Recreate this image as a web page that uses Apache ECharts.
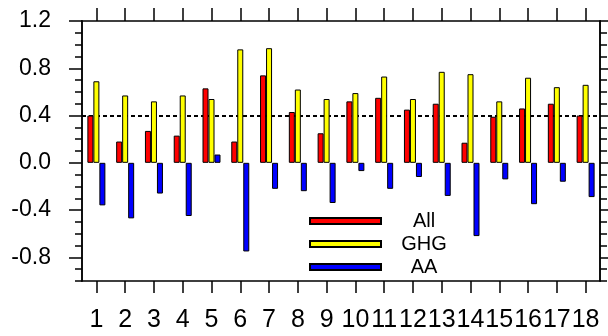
<!DOCTYPE html>
<html lang="en">
<head>
    <meta charset="UTF-8">
    <title>All / GHG / AA</title>
    <script src="https://cdn.jsdelivr.net/npm/echarts@6/dist/echarts.min.js"></script>
    <style>
        body {margin: 0; background: #fff;}
        #main {width: 608px; height: 336px;}
    </style>
</head>
<body>
    <div id="main"></div>
    <script>
    var categories = ['1','2','3','4','5','6','7','8','9','10','11','12','13','14','15','16','17','18'];
    var allVals = [0.40, 0.18, 0.27, 0.23, 0.63, 0.18, 0.74, 0.43, 0.25, 0.52, 0.55, 0.45, 0.50, 0.17, 0.39, 0.46, 0.50, 0.40];
    var ghgVals = [0.69, 0.57, 0.52, 0.57, 0.54, 0.96, 0.97, 0.62, 0.54, 0.59, 0.73, 0.54, 0.77, 0.75, 0.52, 0.72, 0.64, 0.66];
    var aaVals = [-0.36, -0.47, -0.26, -0.45, 0.07, -0.75, -0.22, -0.24, -0.34, -0.07, -0.22, -0.12, -0.28, -0.62, -0.14, -0.35, -0.16, -0.29];
    var majorTicks = [-0.8, -0.4, 0.0, 0.4, 0.8, 1.2];
    var minorTicks = [-1.0, -0.9, -0.8, -0.7, -0.6, -0.5, -0.4, -0.3, -0.2, -0.1, 0.0, 0.1, 0.2, 0.3, 0.4, 0.5, 0.6, 0.7, 0.8, 0.9, 1.0, 1.1, 1.2];
    var refLine = 0.4;

    var myChart = echarts.init(document.getElementById('main'));
    var font = 'Liberation Sans, Arial, sans-serif';
    var black = {color: '#000', width: 1.5};

    // y axes: major + minor ticks, left and right
    function yAx(pos, ticks, len, labels) {
        return {
            type: 'value', position: pos, min: -1.0, max: 1.2,
            splitLine: {show: false},
            axisLine: {show: true, onZero: false, lineStyle: black},
            axisTick: {show: true, customValues: ticks, length: len, lineStyle: black},
            axisLabel: {show: labels, customValues: majorTicks, margin: 31, color: '#000',
                fontSize: 23, fontFamily: font,
                formatter: function (v) { return v.toFixed(1); }}
        };
    }

    function bar(name, data, color) {
        return {
            name: name, type: 'bar', data: data,
            barWidth: 6, barGap: '0%',
            itemStyle: {color: color, borderColor: '#000', borderWidth: 1}
        };
    }

    var series = [bar('All', allVals, '#ff0000'), bar('GHG', ghgVals, '#ffff00'), bar('AA', aaVals, '#0000ff')];
    series[0].markLine = {
        silent: true, symbol: 'none', z: 1,
        label: {show: false},
        lineStyle: {color: '#000', type: [4, 3], width: 2},
        data: [{yAxis: refLine}]
    };

    var option = {
        animation: false,
        grid: {left: 82, right: 8, top: 21, bottom: 55},
        legend: {
            orient: 'vertical', left: 309, top: 211, padding: 0,
            itemWidth: 71, itemHeight: 6, itemGap: 3,
            icon: 'rect',
            formatter: '{a|{name}}',
            textStyle: {
                rich: {a: {width: 76, align: 'center', fontSize: 20, lineHeight: 20, color: '#000', fontFamily: font}}
            },
            data: ['All', 'GHG', 'AA']
        },
        xAxis: [
            {
                type: 'category', data: categories, position: 'bottom',
                axisLine: {show: true, onZero: false, lineStyle: black},
                axisTick: {show: true, alignWithLabel: true, length: 12, lineStyle: black},
                axisLabel: {margin: 27, color: '#000', fontSize: 25, fontFamily: font, interval: 0}
            },
            {
                type: 'category', data: categories, position: 'top',
                axisLine: {show: true, onZero: false, lineStyle: black},
                axisTick: {show: true, alignWithLabel: true, length: 13, lineStyle: black},
                axisLabel: {show: false}
            }
        ],
        yAxis: [
            yAx('left', majorTicks, 13, true),
            yAx('left', minorTicks, 7, false),
            yAx('right', majorTicks, 13, false),
            yAx('right', minorTicks, 7, false)
        ],
        series: series
    };
    myChart.setOption(option);
    </script>
</body>
</html>
